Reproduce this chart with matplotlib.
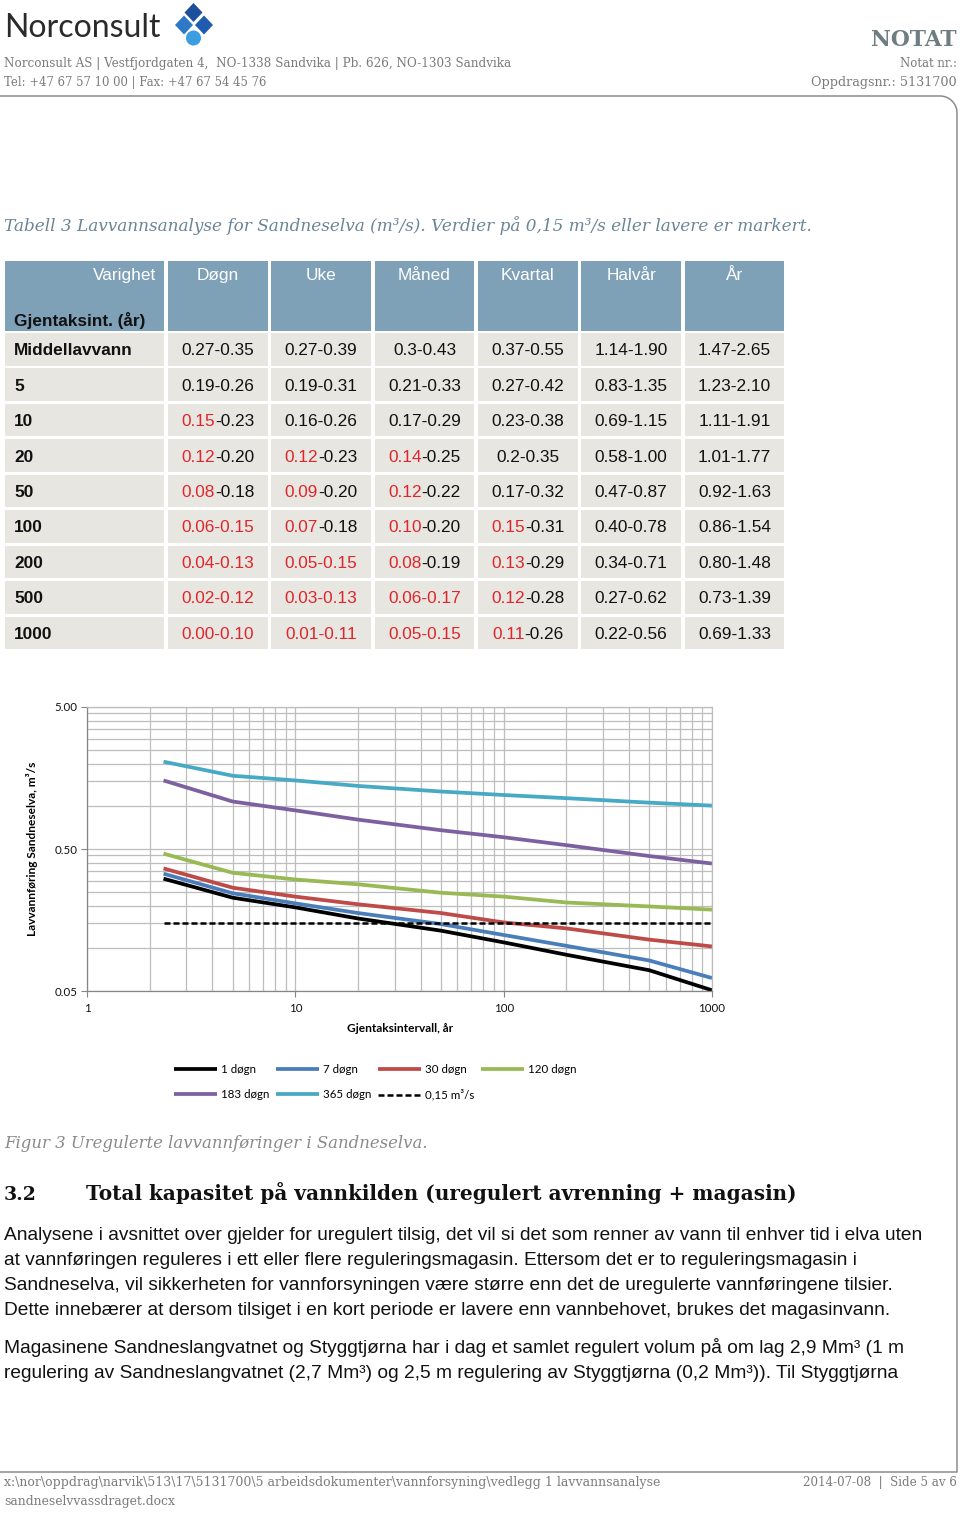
import matplotlib
matplotlib.use('Agg')
import matplotlib.pyplot as plt
from matplotlib.patches import Rectangle, Polygon, Circle
from matplotlib.ticker import FixedLocator, FixedFormatter, NullFormatter
import numpy as np

# ---------------- data ----------------
return_periods = [2.33, 5, 10, 20, 50, 100, 200, 500, 1000]
q_1d = [0.309, 0.227, 0.194, 0.162, 0.133, 0.110, 0.090, 0.070, 0.0506]
q_7d = [0.335, 0.244, 0.207, 0.177, 0.148, 0.124, 0.104, 0.082, 0.0617]
q_30d = [0.365, 0.267, 0.231, 0.204, 0.177, 0.152, 0.138, 0.115, 0.103]
q_120d = [0.464, 0.340, 0.305, 0.282, 0.246, 0.231, 0.210, 0.197, 0.187]
q_183d = [1.52, 1.08, 0.935, 0.805, 0.678, 0.605, 0.532, 0.446, 0.395]
q_365d = [2.06, 1.64, 1.52, 1.39, 1.27, 1.20, 1.14, 1.06, 1.01]
threshold = 0.15
series_labels = ['1 døgn', '7 døgn', '30 døgn', '120 døgn', '183 døgn', '365 døgn']
threshold_label = '0,15 m³/s'

y_ticks = [0.05, 0.5, 5]
y_tick_labels = ['0.05', '0.50', '5.00']
x_ticks = [1, 10, 100, 1000]
x_tick_labels = ['1', '10', '100', '1000']

table_columns = ['Døgn', 'Uke', 'Måned', 'Kvartal', 'Halvår', 'År']
table_rows = ['Middellavvann', '5', '10', '20', '50', '100', '200', '500', '1000']
table_values = [
    ['0.27-0.35', '0.27-0.39', '0.3-0.43', '0.37-0.55', '1.14-1.90', '1.47-2.65'],
    ['0.19-0.26', '0.19-0.31', '0.21-0.33', '0.27-0.42', '0.83-1.35', '1.23-2.10'],
    ['0.15-0.23', '0.16-0.26', '0.17-0.29', '0.23-0.38', '0.69-1.15', '1.11-1.91'],
    ['0.12-0.20', '0.12-0.23', '0.14-0.25', '0.2-0.35', '0.58-1.00', '1.01-1.77'],
    ['0.08-0.18', '0.09-0.20', '0.12-0.22', '0.17-0.32', '0.47-0.87', '0.92-1.63'],
    ['0.06-0.15', '0.07-0.18', '0.10-0.20', '0.15-0.31', '0.40-0.78', '0.86-1.54'],
    ['0.04-0.13', '0.05-0.15', '0.08-0.19', '0.13-0.29', '0.34-0.71', '0.80-1.48'],
    ['0.02-0.12', '0.03-0.13', '0.06-0.17', '0.12-0.28', '0.27-0.62', '0.73-1.39'],
    ['0.00-0.10', '0.01-0.11', '0.05-0.15', '0.11-0.26', '0.22-0.56', '0.69-1.33'],
]
# 0 = black, 1 = first number red, 2 = whole cell red
table_marks = [
    [0, 0, 0, 0, 0, 0],
    [0, 0, 0, 0, 0, 0],
    [1, 0, 0, 0, 0, 0],
    [1, 1, 1, 0, 0, 0],
    [1, 1, 1, 0, 0, 0],
    [2, 1, 1, 1, 0, 0],
    [2, 2, 1, 1, 0, 0],
    [2, 2, 2, 1, 0, 0],
    [2, 2, 2, 1, 0, 0],
]

body_lines_1 = [
    'Analysene i avsnittet over gjelder for uregulert tilsig, det vil si det som renner av vann til enhver tid i elva uten',
    'at vannføringen reguleres i ett eller flere reguleringsmagasin. Ettersom det er to reguleringsmagasin i',
    'Sandneselva, vil sikkerheten for vannforsyningen være større enn det de uregulerte vannføringene tilsier.',
    'Dette innebærer at dersom tilsiget i en kort periode er lavere enn vannbehovet, brukes det magasinvann.',
]
body_lines_2 = [
    'Magasinene Sandneslangvatnet og Styggtjørna har i dag et samlet regulert volum på om lag 2,9 Mm³ (1 m',
    'regulering av Sandneslangvatnet (2,7 Mm³) og 2,5 m regulering av Styggtjørna (0,2 Mm³)). Til Styggtjørna',
]

# ---------------- figure ----------------
W, H = 960, 1513
fig = plt.figure(figsize=(W / 100, H / 100), dpi=100)
fig.patch.set_facecolor('white')
page = fig.add_axes([0, 0, 1, 1])
page.set_xlim(0, W)
page.set_ylim(H, 0)
page.axis('off')
renderer = fig.canvas.get_renderer()

SERIF = ['DejaVu Serif']
SANS = ['Liberation Sans', 'DejaVu Sans']
CAL = ['Lato', 'DejaVu Sans']
GREY_TXT = '#7b7b7b'
CAP_COL = '#6a8597'


def put(x, y, s, target_w=None, size=12, ha='left', va='baseline', **kw):
    t = page.text(x, y, s, fontsize=size, ha=ha, va=va, **kw)
    if target_w:
        w = t.get_window_extent(renderer=renderer).width
        t.set_fontsize(size * target_w / w)
    return t


def width_of(t):
    return t.get_window_extent(renderer=renderer).width


# ----- header -----
put(4, 37, 'Norconsult', target_w=156, size=28, family=CAL, color='#2a2a2a')
# logo
page.add_patch(Polygon([(193.5, 3), (202.5, 12.5), (193.5, 22), (184.5, 12.5)], closed=True,
                       facecolor='#1d4f9c', edgecolor='none'))
page.add_patch(Polygon([(184, 15.5), (193, 25), (184, 34.5), (175, 25)], closed=True,
                       facecolor='#2f78c8', edgecolor='none'))
page.add_patch(Polygon([(204, 15.5), (213, 25), (204, 34.5), (195, 25)], closed=True,
                       facecolor='#1f5bb0', edgecolor='none'))
page.add_patch(Circle((193.5, 38), 7.5, facecolor='#3a9ee0', edgecolor='none'))

put(957, 46, 'NOTAT', target_w=86, size=16, ha='right', family=SERIF, weight='bold', color='#6f7c82')
put(4, 67, 'Norconsult AS | Vestfjordgaten 4,  NO-1338 Sandvika | Pb. 626, NO-1303 Sandvika',
    target_w=509, size=10, family=SERIF, color=GREY_TXT)
put(4, 86, 'Tel: +47 67 57 10 00 | Fax: +47 67 54 45 76', target_w=260, size=10,
    family=SERIF, color=GREY_TXT)
put(957, 67, 'Notat nr.:', target_w=57, size=10, ha='right', family=SERIF, color=GREY_TXT)
put(957, 86, 'Oppdragsnr.: 5131700', target_w=146, size=10, ha='right', family=SERIF, color=GREY_TXT)

# page frame
t_arc = np.linspace(0, np.pi / 2, 20)
fx = [0, 940] + list(940 + 17 * np.sin(t_arc)) + [957, 957, 0]
fy = [96, 96] + list(113 - 17 * np.cos(t_arc)) + [113, 1472, 1472]
page.plot(fx, fy, color='#8c8c8c', lw=1.1, solid_capstyle='butt')

# ----- table caption -----
put(4, 231, 'Tabell 3 Lavvannsanalyse for Sandneselva (m³/s). Verdier på 0,15 m³/s eller lavere er markert.',
    target_w=807, size=12, family=SERIF, style='italic', color=CAP_COL)

# ----- table -----
col_x0 = 5
col0_w = 159
col_w = 99.5
col_pitch = 103.35
gap = 4
head_top, head_bot = 261, 331
row_top0, row_pitch, row_h = 333, 35.45, 32.5
HEAD_COL = '#7fa1b8'
ROW_COL = '#e7e6e1'
RED = '#e0262b'
TFS = 12.45

col_lefts = [col_x0] + [col_x0 + col0_w + gap + i * col_pitch for i in range(len(table_columns))]
col_widths = [col0_w] + [col_w] * len(table_columns)

for j, (cl, cw) in enumerate(zip(col_lefts, col_widths)):
    page.add_patch(Rectangle((cl, head_top), cw, head_bot - head_top, facecolor=HEAD_COL, edgecolor='none'))
put(col_lefts[0] + col_widths[0] - 8, 280, 'Varighet', size=TFS, ha='right', family=SANS, color='white')
for j, name in enumerate(table_columns):
    put(col_lefts[j + 1] + col_widths[j + 1] / 2, 280, name, size=TFS, ha='center', family=SANS, color='white')
put(14, 326, 'Gjentaksint. (år)', size=TFS, family=SANS, weight='bold', color='#111111')

for i, rname in enumerate(table_rows):
    top = row_top0 + i * row_pitch
    for j, (cl, cw) in enumerate(zip(col_lefts, col_widths)):
        page.add_patch(Rectangle((cl, top), cw, row_h, facecolor=ROW_COL, edgecolor='none'))
    base = top + row_h / 2 + 6
    put(14, base, rname, size=TFS, family=SANS, weight='bold', color='#111111')
    for j, val in enumerate(table_values[i]):
        cx = col_lefts[j + 1] + col_widths[j + 1] / 2
        mark = table_marks[i][j]
        if mark == 1:
            a, b = val.split('-', 1)
            b = '-' + b
            ta = put(0, base, a, size=TFS, family=SANS, color=RED)
            tb = put(0, base, b, size=TFS, family=SANS, color='#111111')
            wa, wb = width_of(ta), width_of(tb)
            x0 = cx - (wa + wb) / 2
            ta.set_position((x0, base))
            tb.set_position((x0 + wa, base))
        else:
            put(cx, base, val, size=TFS, ha='center', family=SANS,
                color=RED if mark == 2 else '#111111')

# ----- chart -----
ax_l, ax_r, ax_t, ax_b = 87, 712, 707, 991
ax = fig.add_axes([ax_l / W, 1 - ax_b / H, (ax_r - ax_l) / W, (ax_b - ax_t) / H])
ax.set_facecolor('white')
ax.set_xscale('log')
ax.set_yscale('log')
ax.set_xlim(1, 1000)
ax.set_ylim(0.05, 5)

x_minor = [m * d for d in (1, 10, 100) for m in range(2, 10)]
y_minor = [m * d for d in (0.05, 0.5) for m in range(2, 10)]
ax.xaxis.set_major_locator(FixedLocator(x_ticks))
ax.xaxis.set_major_formatter(FixedFormatter(x_tick_labels))
ax.xaxis.set_minor_locator(FixedLocator(x_minor))
ax.xaxis.set_minor_formatter(NullFormatter())
ax.yaxis.set_major_locator(FixedLocator(y_ticks))
ax.yaxis.set_major_formatter(FixedFormatter(y_tick_labels))
ax.yaxis.set_minor_locator(FixedLocator(y_minor))
ax.yaxis.set_minor_formatter(NullFormatter())
ax.grid(True, which='both', color='#bdbdbd', lw=0.9)
ax.set_axisbelow(True)
ax.tick_params(which='minor', length=0)
ax.tick_params(which='major', length=4, width=0.8, color='#868686', direction='out',
               labelsize=8.3, labelcolor='#111111', pad=3)
ax.tick_params(axis='x', which='major', pad=5)
for lab in ax.get_xticklabels() + ax.get_yticklabels():
    lab.set_family(CAL)
for side in ('top', 'right'):
    ax.spines[side].set_color('#bdbdbd')
    ax.spines[side].set_linewidth(0.9)
for side in ('left', 'bottom'):
    ax.spines[side].set_color('#868686')
    ax.spines[side].set_linewidth(0.9)

colors = ['#000000', '#4a7ebb', '#be4b48', '#98b954', '#7d60a0', '#46aac5']
series = [q_1d, q_7d, q_30d, q_120d, q_183d, q_365d]
handles = []
for vals, c, lab in zip(series, colors, series_labels):
    ln, = ax.plot(return_periods, vals, color=c, lw=2.7, label=lab, solid_capstyle='butt',
                  solid_joinstyle='round')
    handles.append(ln)
th, = ax.plot([return_periods[0], return_periods[-1]], [threshold, threshold], color='black',
              lw=1.8, ls=(0, (2.4, 1.2)), label=threshold_label)
handles.append(th)

ax.set_ylabel('Lavvannføring Sandneselva, m³/s', fontsize=8.6, fontweight='bold', family=CAL)
ax.yaxis.set_label_coords((32 - ax_l) / (ax_r - ax_l), 0.5)
ax.yaxis.label.set_va('center')
ax.set_xlabel('Gjentaksintervall, år', fontsize=8.6, fontweight='bold', family=CAL)
ax.xaxis.set_label_coords((400 - ax_l) / (ax_r - ax_l), (ax_b - 1028) / (ax_b - ax_t))
ax.xaxis.label.set_va('center')

order = [0, 4, 1, 5, 2, 6, 3]
leg = fig.legend([handles[k] for k in order], [handles[k].get_label() for k in order],
                 loc='upper left', bbox_to_anchor=(174 / W, 1 - 1064 / H), ncol=4, frameon=False,
                 prop={'family': CAL, 'size': 8.3}, handlelength=3.75, handletextpad=0.35,
                 columnspacing=0.55, labelspacing=1.22, borderpad=0, borderaxespad=0)

# ----- figure caption, heading, body -----
put(4, 1148, 'Figur 3 Uregulerte lavvannføringer i Sandneselva.', target_w=423, size=12,
    family=SERIF, style='italic', color='#8a8a8a')
put(4, 1200, '3.2', target_w=33, size=15, family=SERIF, weight='bold', color='#111111')
put(86, 1200, 'Total kapasitet på vannkilden (uregulert avrenning + magasin)', target_w=712, size=15,
    family=SERIF, weight='bold', color='#111111')

t0 = put(4, 1240, body_lines_1[0], target_w=922, size=13, family=SANS, color='#111111')
bfs = t0.get_fontsize()
for k, line in enumerate(body_lines_1[1:], start=1):
    put(4, 1240 + 25 * k, line, size=bfs, family=SANS, color='#111111')
for k, line in enumerate(body_lines_2):
    put(4, 1353 + 25 * k, line, size=bfs, family=SANS, color='#111111')

# ----- footer -----
put(4, 1486, r'x:\nor\oppdrag\narvik\513\17\5131700\5 arbeidsdokumenter\vannforsyning\vedlegg 1 lavvannsanalyse',
    target_w=656, size=10, family=SERIF, color=GREY_TXT)
put(4, 1505, 'sandneselvvassdraget.docx', target_w=172, size=10, family=SERIF, color=GREY_TXT)
put(957, 1486, '2014-07-08  |  Side 5 av 6', target_w=155, size=10, ha='right', family=SERIF, color=GREY_TXT)

fig.savefig('out.png', dpi=100, facecolor='white')
